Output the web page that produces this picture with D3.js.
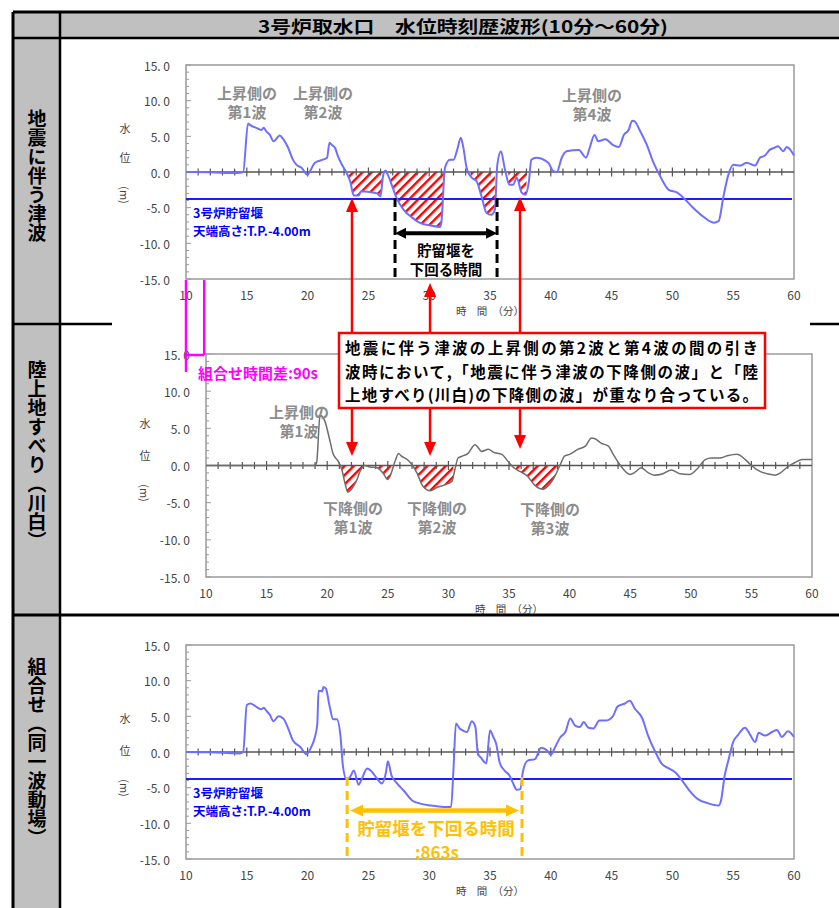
<!DOCTYPE html>
<html>
<head>
<meta charset="utf-8">
<script src="https://cdn.jsdelivr.net/npm/d3@7"></script>
<style>
  body { margin: 0; background: #fff; }
  text { font-family: "Noto Sans CJK JP", "Noto Sans", sans-serif; }
</style>
</head>
<body>
<div id="container"></div>
<script>
/* DATA */
const title = "3号炉取水口　水位時刻歴波形(10分～60分)";
const rowLabels = ["地震に伴う津波", "陸上地すべり（川白）", "組合せ（同一波動場）"];
const xTicks = [10, 15, 20, 25, 30, 35, 40, 45, 50, 55, 60];
const yTicks = [-15, -10, -5, 0, 5, 10, 15];
const weirLevel = -3.8;          // 3号炉貯留堰 line as drawn
const timeShift = 90;            // s
const belowWeirStart = 23.25;    // min, combined wave
const belowWeirSeconds = 863;    // s
const tsunamiBelowWeir = [27.19, 35.58];

// [minute, water level (m)]
const tsunamiWave = [
  [10,0],[12,-0.05],[14.2,-0.15],[14.7,0],[15.1,6.8],[15.25,6.6],[15.9,6.1],[16.2,5.9],[16.4,6.2],
  [16.6,5.7],[16.9,5.2],[17.2,4.3],[17.5,4.8],[17.7,5.1],[18.0,4.6],[18.4,3.4],[18.8,1.7],[19.1,1.0],
  [19.5,0.6],[20.0,-0.4],[20.2,0.1],[20.6,1.3],[21.2,1.7],[21.6,2.0],[21.8,4.1],[22.0,3.8],[22.25,3.4],
  [22.5,2.2],[22.9,0.8],[23.2,-0.1],[23.5,-1.3],[23.8,-3.3],[24.2,-3.3],[24.4,-2.7],[25.1,-2.8],
  [25.7,-3.0],[26.0,-3.4],[26.2,-0.6],[26.4,0.2],[26.6,-0.4],[27.0,-2.2],[27.3,-3.6],[27.9,-5.3],
  [28.6,-6.4],[29.2,-7.1],[30.1,-7.5],[30.9,-7.7],[31.0,-7.1],[31.3,0.6],[31.7,1.7],[32.0,1.7],
  [32.3,3.1],[32.6,4.8],[32.8,3.5],[33.1,0.4],[33.5,-0.8],[33.9,-1.3],[34.3,-3.4],[34.7,-5.7],
  [35.1,-6.0],[35.4,-5.3],[35.6,1.0],[35.9,2.9],[36.2,0.6],[36.6,-1.8],[36.9,-1.8],[37.2,-0.8],
  [37.6,-2.9],[37.9,-3.2],[38.2,-1.3],[38.4,1.7],[38.8,2.0],[39.8,1.3],[40.2,0.1],[40.5,0],[40.9,2.0],
  [41.3,2.9],[42.3,3.1],[42.9,2.0],[43.2,3.4],[43.6,5.2],[43.9,4.3],[44.5,4.6],[45.1,3.8],[45.6,3.5],
  [46.0,5.2],[46.4,5.9],[46.7,7.2],[46.9,7.1],[47.3,5.9],[47.9,3.8],[48.4,1.5],[49.0,-0.6],[49.7,-2.5],
  [50.4,-2.9],[50.9,-3.6],[51.7,-5.0],[52.5,-6.2],[53.4,-7.1],[53.8,-6.9],[54.2,-3.4],[54.6,-0.4],
  [55.0,1.0],[55.6,0.9],[56.1,1.3],[56.8,0.9],[57.2,2.0],[57.6,2.3],[58.0,3.1],[58.4,3.4],[58.7,3.6],
  [59.1,2.9],[59.4,3.5],[59.7,3.1],[60,2.3]
];

const landslideWave = [
  [10,0],[19.0,0],[19.13,0.4],[19.4,6.6],[19.5,6.7],[19.8,6.0],[20.2,3.5],[20.5,1.5],[20.7,1.0],
  [20.9,0.6],[21.2,-0.5],[21.5,-2.6],[21.7,-3.6],[22.0,-3.2],[22.4,-2.1],[22.8,-0.5],[23.1,0],
  [23.5,-0.2],[24.1,-0.3],[24.6,-1.0],[25.0,-1.9],[25.2,-1.4],[25.6,0.6],[25.9,1.6],[26.1,1.3],
  [26.6,0.8],[27.0,0.1],[27.4,-1.0],[27.9,-2.8],[28.5,-3.4],[29.0,-3.0],[29.7,-2.6],[30.3,-2.1],
  [30.5,-0.8],[30.8,1.0],[31.2,1.3],[31.6,1.6],[32.2,2.8],[32.75,1.9],[33.3,2.2],[33.7,1.8],[34.4,1.5],
  [35.0,0.4],[35.4,-0.3],[35.9,-0.8],[36.5,-1.4],[37.1,-2.6],[37.8,-3.2],[38.2,-2.8],[38.8,-1.4],
  [39.2,0],[39.6,1.3],[40.0,1.5],[40.7,2.2],[41.3,2.6],[41.8,3.7],[42.1,3.6],[42.6,3.0],[43.2,2.6],
  [43.6,1.5],[44.2,0],[44.6,-0.8],[45.0,-1.2],[45.4,-0.9],[45.9,-0.3],[46.5,-1.0],[47.0,-1.3],
  [47.7,-1.1],[48.4,-0.6],[49.1,-1.1],[49.9,-1.2],[50.5,-0.5],[51.2,0.8],[51.7,1.0],[52.4,1.0],
  [53.0,1.3],[53.8,1.5],[54.5,0.8],[55.0,0],[55.7,-0.8],[56.3,-1.1],[56.95,-1.3],[57.4,-1.0],
  [57.9,-0.3],[58.6,0.4],[59.2,0.8],[60,0.8]
];

const combinedWave = [
  [10,0],[12,-0.05],[14.4,-0.2],[14.7,0],[15.0,6.6],[15.3,6.8],[15.9,6.2],[16.2,6.0],[16.4,6.2],
  [16.6,5.8],[16.9,5.2],[17.2,4.3],[17.6,5.0],[18.0,4.7],[18.4,3.3],[18.8,1.6],[19.4,0.7],[19.9,-0.3],
  [20.3,0.7],[20.6,2.1],[20.8,4.0],[20.9,8.6],[21.2,8.5],[21.3,9.1],[21.5,8.9],[21.8,6.5],[22.1,4.6],
  [22.4,4.6],[22.7,2.3],[22.9,-1.9],[23.2,-3.8],[23.5,-3.5],[23.8,-2.6],[24.2,-4.6],[24.4,-4.0],
  [24.9,-2.3],[25.3,-2.8],[25.7,-3.7],[26.1,-4.4],[26.45,-2.8],[26.6,-1.3],[26.9,-3.3],[27.3,-4.3],
  [27.9,-5.4],[28.6,-6.8],[29.2,-7.2],[30.1,-7.5],[31.2,-7.7],[31.8,-7.7],[32.0,-2.3],[32.2,4.0],
  [32.5,3.3],[32.8,3.0],[33.1,2.8],[33.5,4.3],[33.8,3.5],[34.0,-0.2],[34.3,-0.9],[34.7,-1.6],
  [35.0,3.0],[35.3,2.0],[35.5,1.2],[35.8,-1.5],[36.2,-2.6],[36.6,-3.3],[36.9,-4.4],[37.2,-5.3],
  [37.5,-5.2],[37.7,-2.8],[38.1,-1.2],[38.7,-1.0],[39.2,0.6],[39.7,0.2],[40.0,-0.4],[40.3,0.5],
  [40.8,2.1],[41.2,2.8],[41.6,4.7],[42.0,3.7],[42.4,3.5],[42.7,4.2],[43.1,3.4],[43.5,3.3],[44.0,4.4],
  [44.5,4.4],[45.1,5.0],[45.5,6.4],[46.1,6.8],[46.5,7.2],[46.9,6.1],[47.5,4.8],[48.0,2.3],[48.6,0],
  [49.1,-1.6],[49.7,-2.3],[50.2,-2.8],[50.8,-4.0],[51.4,-5.4],[52.1,-6.6],[52.95,-7.2],[53.8,-7.5],
  [54.0,-6.8],[54.3,-3.3],[54.6,-1.2],[55.0,1.4],[55.4,2.4],[55.97,3.4],[56.4,2.4],[56.8,1.4],
  [57.1,2.7],[57.6,2.3],[58.2,2.8],[58.6,3.1],[59.0,2.1],[59.5,2.9],[60,2.1]
];

// hatched (overlapping draw-down) intervals, minutes
const tsunamiHatch = [[23.2,26.2],[26.8,31.2],[33.4,35.4],[36.5,38.0]];
const landslideHatch = [[21.2,23.0],[23.9,25.3],[27.2,30.4],[35.5,39.2]];

const calloutLines = [
  "地震に伴う津波の上昇側の第2波と第4波の間の引き",
  "波時において,「地震に伴う津波の下降側の波」と「陸",
  "上地すべり(川白)の下降側の波」が重なり合っている。"
];

/* LAYOUT */
const width = 839, height = 908;
const blue = "#6f6fff", weirBlue = "#1c1cff", gold = "#ffc000", pink = "#ff00ff";

const panels = [
  { data: tsunamiWave, hatch: tsunamiHatch, color: blue, weir: true,
    left: 186, right: 794, top: 65, bottom: 279, yLab: [128, 157, 195] },
  { data: landslideWave, hatch: landslideHatch, color: "#6e6e6e", weir: false,
    left: 206, right: 812, top: 354, bottom: 577, yLab: [423, 455, 493] },
  { data: combinedWave, hatch: [], color: blue, weir: true,
    left: 186, right: 794, top: 645, bottom: 859, yLab: [718, 750, 788] }
];

const svg = d3.select("#container").append("svg")
  .attr("width", width).attr("height", height);
const defs = svg.append("defs");

// red / white diagonal hatch
const pat = defs.append("pattern").attr("id", "hatch")
  .attr("patternUnits", "userSpaceOnUse").attr("width", 6.5).attr("height", 6.5)
  .attr("patternTransform", "rotate(45)");
pat.append("rect").attr("width", 6.5).attr("height", 6.5).attr("fill", "#fff");
pat.append("rect").attr("width", 2.4).attr("height", 6.5).attr("fill", "#ff0000");

const fmt = v => d3.format(".1f")(v).replace("−", "-").replace(".", ". ");

function arrow(g, x1, y1, x2, y2, color, w, head, both) {
  const a = Math.atan2(y2 - y1, x2 - x1), len = head[0], hw = head[1] / 2;
  const ux = Math.cos(a), uy = Math.sin(a);
  const sx = both ? x1 + ux * (len - 1) : x1, sy = both ? y1 + uy * (len - 1) : y1;
  g.append("line").attr("x1", sx).attr("y1", sy)
    .attr("x2", x2 - ux * (len - 1)).attr("y2", y2 - uy * (len - 1))
    .attr("stroke", color).attr("stroke-width", w);
  const tri = (tx, ty, dx, dy) => [[tx, ty],
    [tx - dx * len - dy * hw, ty - dy * len + dx * hw],
    [tx - dx * len + dy * hw, ty - dy * len - dx * hw]].join(" ");
  g.append("polygon").attr("points", tri(x2, y2, ux, uy)).attr("fill", color);
  if (both) g.append("polygon").attr("points", tri(x1, y1, -ux, -uy)).attr("fill", color);
}

/* TABLE FRAME */
const frame = svg.append("g");
frame.append("rect").attr("x", 13).attr("y", 12).attr("width", 826).attr("height", 26).attr("fill", "#c0c0c0");
frame.append("rect").attr("x", 13).attr("y", 38).attr("width", 47).attr("height", 870).attr("fill", "#c0c0c0");
[[13, 12, 13, 908, 3], [60, 12, 60, 908, 2.5], [13, 12, 839, 12, 3], [13, 38, 839, 38, 2.5],
 [13, 324, 112, 324, 2.5], [810, 324, 839, 324, 2.5], [13, 615, 839, 615, 3]]
  .forEach(([x1, y1, x2, y2, w]) => frame.append("line")
    .attr("x1", x1).attr("y1", y1).attr("x2", x2).attr("y2", y2)
    .attr("stroke", "#000").attr("stroke-width", w));

frame.append("text").attr("x", 463).attr("y", 25).attr("text-anchor", "middle")
  .attr("dominant-baseline", "central").attr("font-size", 17).attr("font-weight", "bold")
  .attr("textLength", 410).attr("lengthAdjust", "spacingAndGlyphs").text(title);

[176, 455, 752].forEach((cy, i) => frame.append("text")
  .attr("x", 37).attr("y", cy).attr("text-anchor", "middle")
  .attr("font-size", 19).attr("font-weight", "bold")
  .style("writing-mode", "vertical-rl").text(rowLabels[i]));

/* PANELS */
panels.forEach((p, i) => {
  const g = svg.append("g");
  const x = d3.scaleLinear().domain([10, 60]).range([p.left, p.right]);
  const y = d3.scaleLinear().domain([-15, 15]).range([p.bottom, p.top]);
  p.x = x; p.y = y;

  // minor ticks on the left axis
  d3.range(-15, 16).forEach(v => g.append("line")
    .attr("x1", p.left).attr("x2", p.left + (v % 5 === 0 ? 5 : 3))
    .attr("y1", y(v)).attr("y2", y(v)).attr("stroke", "#999").attr("stroke-width", 1));

  g.append("rect").attr("x", p.left).attr("y", p.top)
    .attr("width", p.right - p.left).attr("height", p.bottom - p.top)
    .attr("fill", "none").attr("stroke", "#9a9a9a").attr("stroke-width", 1.5);

  g.selectAll(".ylab").data(yTicks).join("text")
    .attr("x", p.left - 16).attr("y", d => y(d)).attr("text-anchor", "end")
    .attr("dominant-baseline", "central").attr("font-size", 12).attr("fill", "#444")
    .text(fmt);

  g.selectAll(".xlab").data(xTicks).join("text")
    .attr("x", d => x(d)).attr("y", p.bottom + 15).attr("text-anchor", "middle")
    .attr("dominant-baseline", "central").attr("font-size", 12).attr("fill", "#444")
    .text(d => d);

  g.append("text").attr("x", (p.left + p.right) / 2).attr("y", p.bottom + 31)
    .attr("text-anchor", "middle").attr("dominant-baseline", "central")
    .attr("font-size", 10.5).attr("fill", "#444").text("時　間　（分）");

  const lx = p.left - 61;
  g.append("text").attr("x", lx).attr("y", p.yLab[0]).attr("text-anchor", "middle")
    .attr("dominant-baseline", "central").attr("font-size", 11).attr("fill", "#444").text("水");
  g.append("text").attr("x", lx).attr("y", p.yLab[1]).attr("text-anchor", "middle")
    .attr("dominant-baseline", "central").attr("font-size", 11).attr("fill", "#444").text("位");
  g.append("text").attr("transform", `translate(${lx},${p.yLab[2]}) rotate(90)`)
    .attr("text-anchor", "middle").attr("dominant-baseline", "central")
    .attr("font-size", 11).attr("fill", "#444").text("(m)");

  // hatched draw-down parts
  if (p.hatch.length) {
    const clip = defs.append("clipPath").attr("id", "clip" + i);
    p.hatch.forEach(([a, b]) => clip.append("rect")
      .attr("x", x(a)).attr("y", p.top).attr("width", x(b) - x(a)).attr("height", p.bottom - p.top));
    g.append("path").datum(p.data)
      .attr("d", d3.area().x(d => x(d[0])).y0(y(0)).y1(d => y(Math.min(d[1], 0))).curve(d3.curveMonotoneX))
      .attr("fill", "url(#hatch)").attr("clip-path", `url(#clip${i})`);
  }

  if (p.weir) g.append("line").attr("x1", p.left).attr("x2", p.right - 2)
    .attr("y1", y(weirLevel)).attr("y2", y(weirLevel))
    .attr("stroke", weirBlue).attr("stroke-width", 2);

  // zero line with minute ticks
  g.append("line").attr("x1", p.left).attr("x2", p.right).attr("y1", y(0)).attr("y2", y(0))
    .attr("stroke", "#555").attr("stroke-width", 1.5);
  d3.range(11, 60).forEach(m => g.append("line")
    .attr("x1", x(m)).attr("x2", x(m))
    .attr("y1", y(0) - (m % 5 === 0 ? 4.5 : 3.5)).attr("y2", y(0) + (m % 5 === 0 ? 4.5 : 3.5))
    .attr("stroke", "#555").attr("stroke-width", 1.2));

  g.append("path").datum(p.data)
    .attr("d", d3.line().x(d => x(d[0])).y(d => y(d[1])).curve(d3.curveMonotoneX))
    .attr("fill", "none").attr("stroke", p.color).attr("stroke-width", i === 1 ? 1.5 : 2)
    .attr("stroke-linejoin", "round");
});

/* ANNOTATIONS */
const ann = svg.append("g");
const [p1, p2, p3] = panels;

function label(x, y, lines, size, color, anchor, gap) {
  lines.forEach((t, k) => ann.append("text").attr("x", x).attr("y", y + k * (gap || size + 4))
    .attr("text-anchor", anchor || "middle").attr("dominant-baseline", "central")
    .attr("font-size", size).attr("font-weight", "bold").attr("fill", color).text(t));
}

// grey wave names
label(247, 92, ["上昇側の", "第1波"], 15, "#8c8c8c");
label(323, 92, ["上昇側の", "第2波"], 15, "#8c8c8c");
label(592, 94, ["上昇側の", "第4波"], 15, "#8c8c8c");
label(299, 411, ["上昇側の", "第1波"], 15, "#8c8c8c");
label(353, 507, ["下降側の", "第1波"], 15, "#8c8c8c");
label(437, 507, ["下降側の", "第2波"], 15, "#8c8c8c");
label(550, 508, ["下降側の", "第3波"], 15, "#8c8c8c");

// weir crest text
[p1, p3].forEach(p => label(p.left + 7, p.y(weirLevel) + 13,
  ["3号炉貯留堰", "天端高さ:T.P.-4.00m"], 12.5, "#0000ff", "start", 18.5));

// tsunami: time below weir (black)
tsunamiBelowWeir.forEach(m => ann.append("line")
  .attr("x1", p1.x(m)).attr("x2", p1.x(m)).attr("y1", p1.y(weirLevel) - 1).attr("y2", p1.bottom)
  .attr("stroke", "#000").attr("stroke-width", 3).attr("stroke-dasharray", "9,5"));
arrow(ann, p1.x(tsunamiBelowWeir[0]), p1.y(-8.6), p1.x(tsunamiBelowWeir[1]), p1.y(-8.6),
  "#000", 4, [11, 11], true);
label(446, 249, ["貯留堰を", "下回る時間"], 14.5, "#000", "middle", 19.5);

// combined: time below weir (gold)
const bwEnd = belowWeirStart + belowWeirSeconds / 60;
[belowWeirStart, bwEnd].forEach(m => ann.append("line")
  .attr("x1", p3.x(m)).attr("x2", p3.x(m)).attr("y1", p3.y(weirLevel) - 2).attr("y2", p3.bottom)
  .attr("stroke", gold).attr("stroke-width", 3).attr("stroke-dasharray", "9,5"));
arrow(ann, p3.x(belowWeirStart) + 3, p3.y(-8.2), p3.x(bwEnd) - 3, p3.y(-8.2), gold, 4.5, [13, 12], true);
label(436, 827, ["貯留堰を下回る時間"], 17.5, gold);
label(437, 851, [":" + belowWeirSeconds + "s"], 17, gold);

// time shift between the two source waves (pink)
const sx0 = p1.x(10), sx1 = p1.x(10 + timeShift / 60);
[[sx0, p1.bottom + 1, sx0, 372], [sx1, p1.bottom + 1, sx1, 355], [sx0, 355, sx1, 355]]
  .forEach(([x1, y1, x2, y2]) => ann.append("line").attr("x1", x1).attr("y1", y1)
    .attr("x2", x2).attr("y2", y2).attr("stroke", pink).attr("stroke-width", 2.5));
label(198, 372, ["組合せ時間差:" + timeShift + "s"], 15, pink, "start");

// red callout with arrows
const box = { x: 339, y: 333, w: 426, h: 75 };
[[23.65, p1.y(weirLevel) - 1, 456], [30.07, p1.bottom + 4, 456], [37.47, 197, 449]]
  .forEach(([m, upTip, downTip]) => {
    const ax = p1.x(m);
    arrow(ann, ax, box.y, ax, upTip, "#ff0000", 2.5, [14, 12], false);
    arrow(ann, ax, box.y + box.h, ax, downTip, "#ff0000", 2.5, [14, 12], false);
  });
ann.append("rect").attr("x", box.x).attr("y", box.y).attr("width", box.w).attr("height", box.h)
  .attr("fill", "#fff").attr("stroke", "#ff0000").attr("stroke-width", 2.5);
calloutLines.forEach((t, k) => ann.append("text")
  .attr("x", box.x + 6).attr("y", box.y + 14 + k * 23.5).attr("dominant-baseline", "central")
  .attr("font-size", 15.5).attr("font-weight", "bold").attr("fill", "#000")
  .attr("textLength", 413).attr("lengthAdjust", "spacing").text(t));
</script>
</body>
</html>
